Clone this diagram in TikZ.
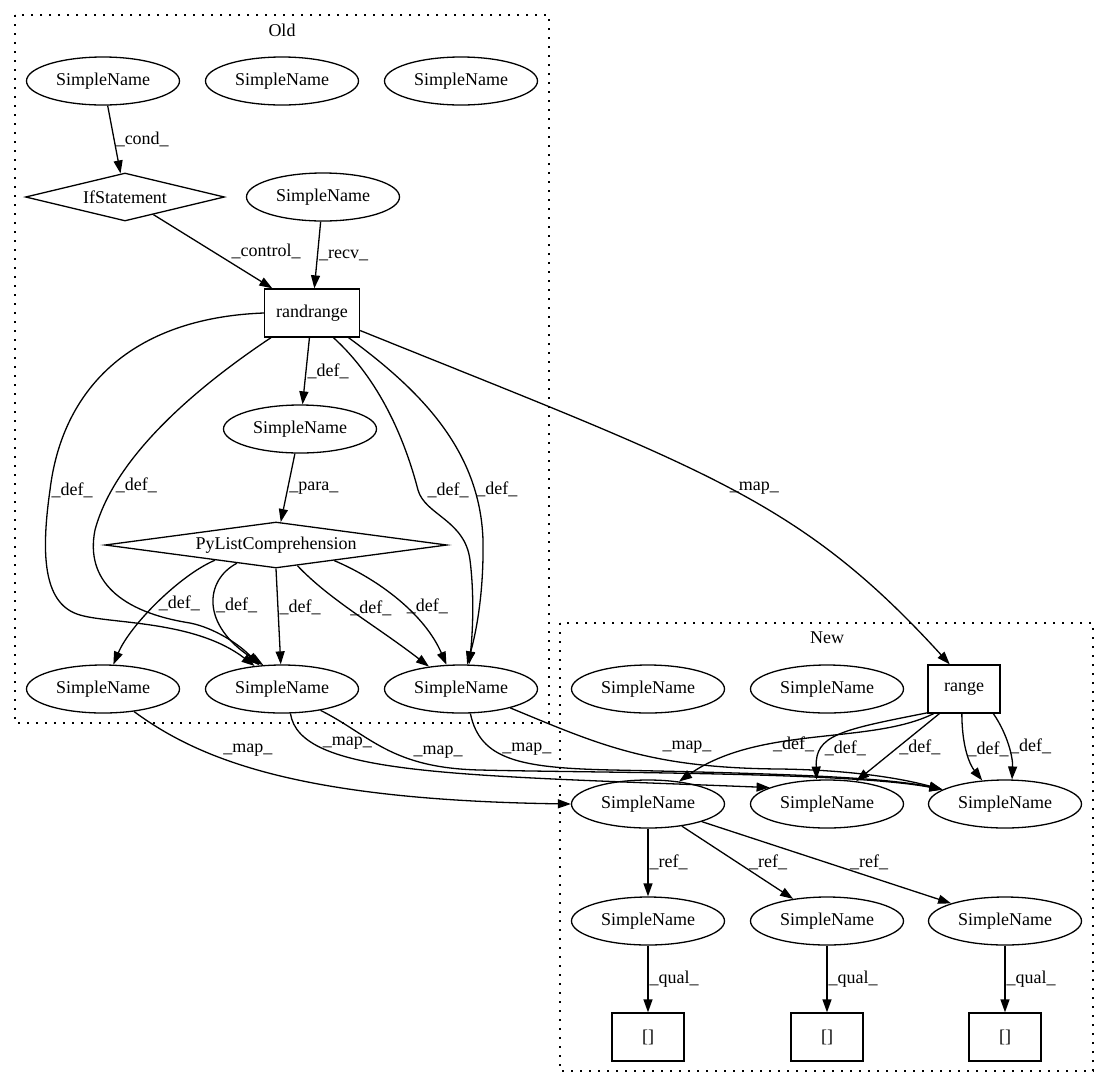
\documentclass[tikz,border=0pt]{standalone}
\usepackage{fontspec}
\setmainfont{Liberation Serif}
\usepackage{tikz}
\usetikzlibrary{
  arrows.meta,
  positioning,
  shapes.geometric
}
\newcommand{\gvfont}{\fontsize{18}{21}\selectfont}
\tikzset{
  >={Triangle[length=13pt,width=9pt]},
  arrow/.style={-{Triangle[length=13pt,width=9pt]}, draw=black, line width=1.3pt},
  namebox/.style={
    ellipse,
    draw,
    line width=1.3pt,
    minimum width=153pt,
    minimum height=48pt,
    inner sep=0pt,
    font=\gvfont
  },
  callbox/.style={
    rectangle,
    draw,
    line width=1.3pt,
    minimum width=72pt,
    minimum height=48pt,
    inner sep=0pt,
    font=\gvfont
  },
  stmtbox/.style={
    diamond,
    draw,
    aspect=7,
    line width=1.3pt,
    inner sep=0pt,
    font=\gvfont
  },
  cluster/.style={draw, line width=1.3pt, dash pattern=on 1.6pt off 7.4pt},
  clustertitle/.style={font=\gvfont},
  elabel/.style={font=\gvfont, inner sep=1pt}
}

\begin{document}
\begin{tikzpicture}[x=1pt,y=-1pt]
  \fill[white, use as bounding box] (0,0) rectangle (1109,1088);

  \draw[cluster] (15,15) rectangle (549,723);
  \node[clustertitle] (oldtitle) at (282,30) {Old};
  \draw[cluster] (560,623) rectangle (1093,1071);
  \node[clustertitle] (newtitle) at (827,638) {New};

  \node[namebox] (oldsnA) at (103,81) {SimpleName};
  \node[namebox] (oldsnB) at (282,81) {SimpleName};
  \node[namebox] (oldsnC) at (461,81) {SimpleName};
  \node[stmtbox, minimum width=199pt, minimum height=48pt] (ifstmt) at (125,197) {IfStatement};
  \node[namebox] (recvsn) at (323,197) {SimpleName};
  \node[callbox, minimum width=95pt] (randcall) at (312,313) {randrange};
  \node[namebox] (parasn) at (300,429) {SimpleName};
  \node[stmtbox, minimum width=342pt, minimum height=46pt] (listcomp) at (276,545) {PyListComprehension};
  \node[namebox] (oldbotA) at (103,689) {SimpleName};
  \node[namebox] (oldbotB) at (282,689) {SimpleName};
  \node[namebox] (oldbotC) at (461,689) {SimpleName};

  \node[namebox] (newsnA) at (648,689) {SimpleName};
  \node[namebox] (newsnB) at (827,689) {SimpleName};
  \node[callbox] (rangecall) at (964,689) {range};
  \node[namebox] (defsnA) at (648,804) {SimpleName};
  \node[namebox] (defsnB) at (827,804) {SimpleName};
  \node[namebox] (defsnC) at (1005,804) {SimpleName};
  \node[namebox] (refsnA) at (648,921) {SimpleName};
  \node[namebox] (refsnB) at (827,921) {SimpleName};
  \node[namebox] (refsnC) at (1005,921) {SimpleName};
  \node[callbox] (subA) at (648,1037) {[]};
  \node[callbox] (subB) at (827,1037) {[]};
  \node[callbox] (subC) at (1005,1037) {[]};

  \draw[arrow] (oldsnA) -- node[elabel, right] {\_cond\_} (ifstmt);
  \draw[arrow] (ifstmt) -- node[elabel, right=17pt] {\_control\_} (randcall);
  \draw[arrow] (recvsn) -- node[elabel, right] {\_recv\_} (randcall);
  \draw[arrow] (randcall) -- node[elabel, right] {\_def\_} (parasn);
  \draw[arrow] (parasn) -- node[elabel, right] {\_para\_} (listcomp);

  \draw[arrow] (randcall.west) .. controls (130,318) and (62,390) .. (50,490) node[elabel, right] {\_def\_}
    .. controls (40,560) and (45,605) .. (80,615)
    .. controls (110,624) and (195,620) .. (oldbotB.140);
  \draw[arrow] (randcall.-149) .. controls (200,385) and (115,455) .. (95,530) node[elabel, pos=0.8, right] {\_def\_}
    .. controls (85,580) and (120,612) .. (190,623)
    .. controls (215,628) and (240,645) .. (oldbotB.134);
  \draw[arrow] (randcall.-49) .. controls (380,380) and (405,440) .. (418,490) node[elabel, right=8pt] {\_def\_}
    .. controls (425,515) and (465,520) .. (470,560)
    .. controls (475,600) and (472,640) .. (oldbotC.72);
  \draw[arrow] (randcall.-34) .. controls (420,390) and (480,450) .. (483,540) node[elabel, pos=0.8, right] {\_def\_}
    .. controls (484,600) and (474,640) .. (oldbotC.76);
  \draw[arrow] (randcall.-20) .. controls (706,470) and (799,499) .. (rangecall.120) node[elabel, pos=0.5, right] {\_map\_};

  \draw[arrow] (listcomp.-166) .. controls (180,575) and (130,625) .. (oldbotA.67) node[elabel, pos=0.5, right] {\_def\_};
  \draw[arrow] (listcomp.-155) .. controls (205,580) and (200,625) .. (oldbotB.128) node[elabel, pos=0.5, right] {\_def\_};
  \draw[arrow] (listcomp.south) -- node[elabel, pos=0.4, right] {\_def\_} (oldbotB);
  \draw[arrow] (listcomp.-44) .. controls (330,600) and (375,625) .. (oldbotC.145) node[elabel, pos=0.45, right] {\_def\_};
  \draw[arrow] (listcomp.-15) .. controls (380,580) and (425,615) .. (oldbotC.121) node[elabel, pos=0.55, right] {\_def\_};

  \draw[arrow] (oldbotA.-36) .. controls (200,760) and (300,800) .. (defsnA.west) node[elabel, pos=0.35, above right] {\_map\_};
  \draw[arrow] (oldbotB.-71) .. controls (300,775) and (450,775) .. (defsnB.164) node[elabel, pos=0.2, right=8pt] {\_map\_};
  \draw[arrow] (oldbotB.-29) .. controls (370,735) and (390,768) .. (480,770) node[elabel, pos=0.55, right=20pt] {\_map\_}
    .. controls (600,773) and (850,772) .. (defsnC.167);
  \draw[arrow] (oldbotC.-69) .. controls (480,760) and (520,768) .. (613,770) node[elabel, pos=0.35, right=8pt] {\_map\_}
    .. controls (750,773) and (880,776) .. (defsnC.167);
  \draw[arrow] (oldbotC.-21) .. controls (600,745) and (650,768) .. (780,769) node[elabel, pos=0.72, above=8pt] {\_map\_}
    .. controls (850,770) and (900,778) .. (defsnC.167);

  \draw[arrow] (rangecall.-141) .. controls (870,745) and (760,725) .. (defsnA.36) node[elabel, pos=0.65, right] {\_def\_};
  \draw[arrow] (rangecall.-147) .. controls (840,730) and (815,735) .. (defsnB.113) node[elabel, pos=0.7, right] {\_def\_};
  \draw[arrow] (rangecall.-135) -- node[elabel, right] {\_def\_} (defsnB.38);
  \draw[arrow] (rangecall.-95) .. controls (962,748) and (970,765) .. (defsnC.134) node[elabel, pos=0.42, right] {\_def\_};
  \draw[arrow] (rangecall.-40) .. controls (1008,735) and (1013,758) .. (defsnC.74) node[elabel, pos=0.5, right] {\_def\_};

  \draw[arrow] (defsnA) -- node[elabel, right] {\_ref\_} (refsnA);
  \draw[arrow] (defsnA) -- node[elabel, right=10pt] {\_ref\_} (refsnB);
  \draw[arrow] (defsnA) -- node[elabel, right=22pt] {\_ref\_} (refsnC);

  \draw[arrow] (refsnA) -- node[elabel, right] {\_qual\_} (subA);
  \draw[arrow] (refsnB) -- node[elabel, right] {\_qual\_} (subB);
  \draw[arrow] (refsnC) -- node[elabel, right] {\_qual\_} (subC);
\end{tikzpicture}
\end{document}
